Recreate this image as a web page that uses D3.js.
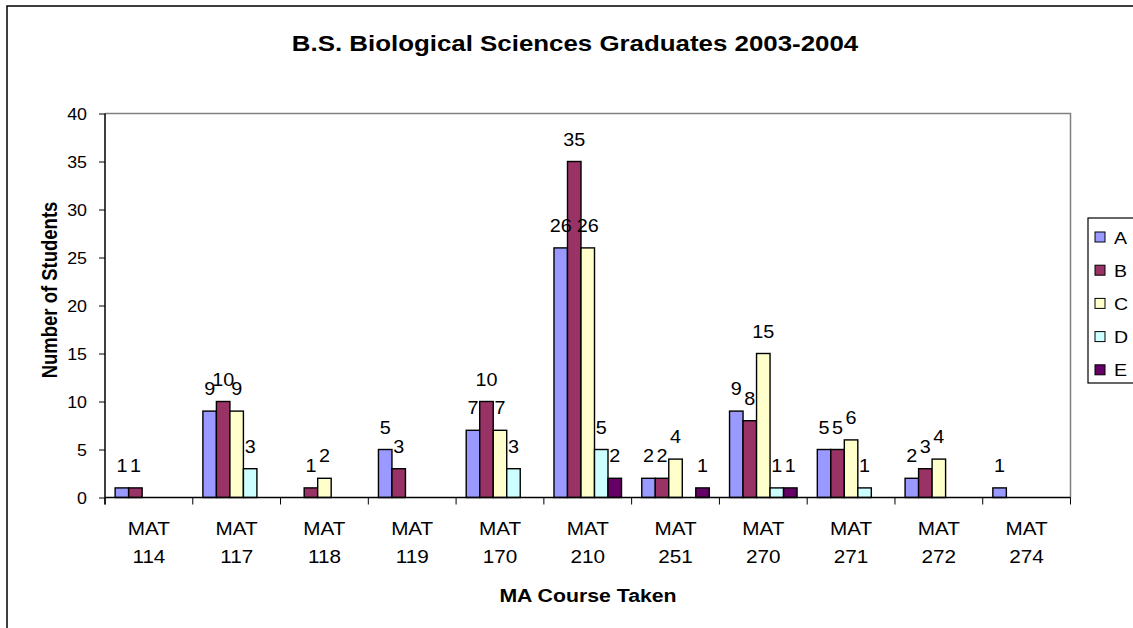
<!DOCTYPE html>
<html>
<head>
<meta charset="utf-8">
<script src="https://cdn.jsdelivr.net/npm/d3@7"></script>
<style>
  html, body { margin: 0; padding: 0; background: #fff; }
  svg { display: block; }
  text { font-family: "Liberation Sans", Arial, sans-serif; fill: #000; }
</style>
</head>
<body>
<svg id="chart" width="1133" height="628"></svg>
<script>
const categories = ["MAT 114", "MAT 117", "MAT 118", "MAT 119", "MAT 170", "MAT 210", "MAT 251", "MAT 270", "MAT 271", "MAT 272", "MAT 274"];
const seriesNames = ["A", "B", "C", "D", "E"];
const valuesA = [1, 9, 0, 5, 7, 26, 2, 9, 5, 2, 1];
const valuesB = [1, 10, 1, 3, 10, 35, 2, 8, 5, 3, 0];
const valuesC = [0, 9, 2, 0, 7, 26, 4, 15, 6, 4, 0];
const valuesD = [0, 3, 0, 0, 3, 5, 0, 1, 1, 0, 0];
const valuesE = [0, 0, 0, 0, 0, 2, 1, 1, 0, 0, 0];
const yTicks = [0, 5, 10, 15, 20, 25, 30, 35, 40];
const seriesColors = ["#9999FF", "#993366", "#FFFFCC", "#CCFFFF", "#660066"];
const titleText = "B.S. Biological Sciences Graduates 2003-2004";
const xTitleText = "MA Course Taken";
const yTitleText = "Number of Students";

const seriesValues = [valuesA, valuesB, valuesC, valuesD, valuesE];
const SX = 1.15; // horizontal stretch of the original rendering

const svg = d3.select("#chart");
const plot = { left: 105, right: 1070.5, top: 113.5, bottom: 497.5 };

// outer chart border (extends past right/bottom of the window)
svg.append("rect").attr("x", 7).attr("y", 6).attr("width", 1150).attr("height", 650)
  .attr("fill", "#fff").attr("stroke", "#000").attr("stroke-width", 1.5);

const x0 = d3.scaleBand().domain(categories).range([plot.left, plot.right]).paddingInner(0).paddingOuter(0);
const x1 = d3.scaleBand().domain(seriesNames).range([0, x0.bandwidth()]).paddingInner(0).paddingOuter(0.75);
const y = d3.scaleLinear().domain([0, 40]).range([plot.bottom, plot.top]);
const color = d3.scaleOrdinal().domain(seriesNames).range(seriesColors);

function txt(parent, x, yy, s, size, opts = {}) {
  let tr = `translate(${x},${yy}) scale(${opts.sx || SX},1)`;
  if (opts.rotate) tr += ` rotate(${opts.rotate})`;
  return parent.append("text")
    .attr("transform", tr)
    .attr("text-anchor", opts.anchor || "middle")
    .attr("font-size", size)
    .attr("font-weight", opts.bold ? "bold" : "normal")
    .text(s);
}

// plot area border: top and right in gray
svg.append("path")
  .attr("d", `M${plot.left},${plot.top}H${plot.right}V${plot.bottom}`)
  .attr("fill", "none").attr("stroke", "#808080").attr("stroke-width", 1.5);

// data
const rows = [];
categories.forEach((c, i) => {
  seriesNames.forEach((s, j) => {
    rows.push({ cat: c, series: s, value: seriesValues[j][i] });
  });
});
const nonZero = rows.filter(d => d.value > 0);

svg.append("g").selectAll("rect").data(nonZero).join("rect")
  .attr("x", d => x0(d.cat) + x1(d.series))
  .attr("y", d => y(d.value))
  .attr("width", x1.bandwidth())
  .attr("height", d => y(0) - y(d.value))
  .attr("fill", d => color(d.series))
  .attr("stroke", "#000").attr("stroke-width", 1.4);

const labels = svg.append("g");
nonZero.forEach(d => {
  txt(labels, x0(d.cat) + x1(d.series) + x1.bandwidth() / 2, y(d.value) - 16, String(d.value), 18, { sx: 1.1 });
});

// y axis
const yAxis = svg.append("g").attr("transform", `translate(${plot.left},0)`)
  .call(d3.axisLeft(y).tickValues(yTicks).tickSize(6).tickFormat(""));
yAxis.select(".domain").attr("stroke", "#000").attr("stroke-width", 1.5)
  .attr("d", `M0,${plot.top}V${plot.bottom + 7}`);
yAxis.selectAll(".tick line").attr("stroke", "#000").attr("stroke-width", 1);
yTicks.forEach(t => {
  txt(svg, 87, y(t) + 6, String(t), 16.5, { anchor: "end", sx: 1.08 });
});

// x axis
svg.append("line").attr("x1", plot.left).attr("x2", plot.right)
  .attr("y1", y(0)).attr("y2", y(0)).attr("stroke", "#000").attr("stroke-width", 1.5);
const bounds = categories.map(c => x0(c)).concat([x0(categories[categories.length - 1]) + x0.bandwidth()]);
svg.append("g").selectAll("line").data(bounds).join("line")
  .attr("x1", d => d).attr("x2", d => d)
  .attr("y1", y(0)).attr("y2", y(0) + 7)
  .attr("stroke", "#000").attr("stroke-width", 1);

categories.forEach(c => {
  const parts = c.split(" ");
  const cx = x0(c) + x0.bandwidth() / 2;
  txt(svg, cx, 534.5, parts[0], 18);
  txt(svg, cx, 563, parts[1], 18);
});

// titles
txt(svg, 575, 51, titleText, 22.5, { bold: true });
txt(svg, 588, 601.5, xTitleText, 18.5, { bold: true });
txt(svg, 57, 290, yTitleText, 18.5, { bold: true, rotate: -90 });

// legend
const lg = svg.append("g");
lg.append("rect").attr("x", 1088).attr("y", 218).attr("width", 80).attr("height", 165)
  .attr("fill", "#fff").attr("stroke", "#000").attr("stroke-width", 1.2);
seriesNames.forEach((s, i) => {
  const cy = 237 + i * 33.2;
  lg.append("rect").attr("x", 1095).attr("y", cy - 5).attr("width", 10).attr("height", 10)
    .attr("fill", color(s)).attr("stroke", "#000").attr("stroke-width", 1);
  txt(lg, 1114, cy + 6.5, s, 17, { anchor: "start" });
});
</script>
</body>
</html>
